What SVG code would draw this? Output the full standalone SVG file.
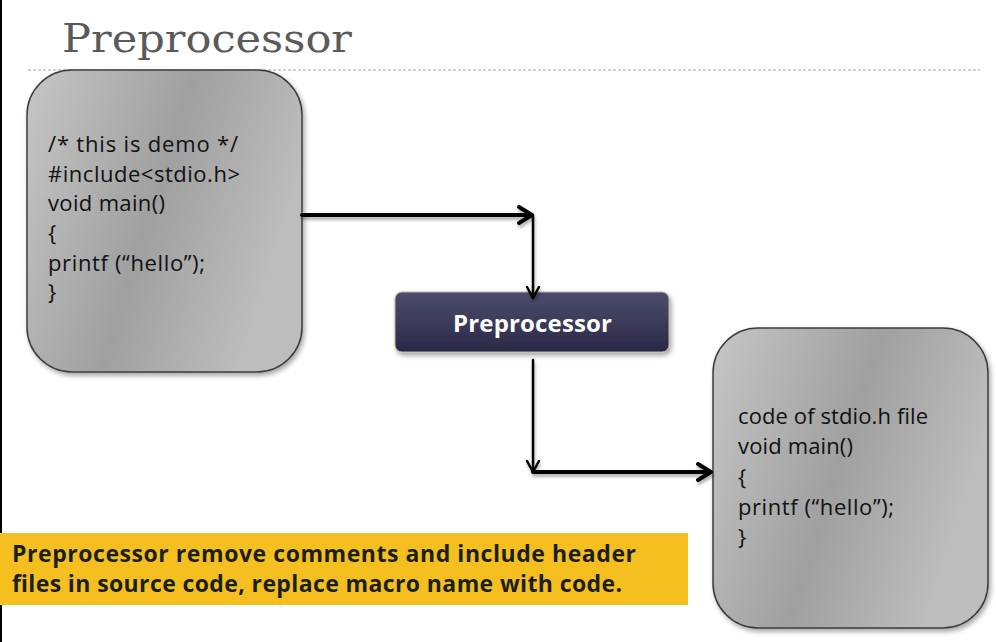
<svg xmlns="http://www.w3.org/2000/svg" width="996" height="642" viewBox="0 0 996 642">
<defs>
<linearGradient id="gbox" x1="0" y1="0" x2="1" y2="0.35">
<stop offset="0" stop-color="#c6c6c6"/>
<stop offset="0.55" stop-color="#a0a0a0"/>
<stop offset="1" stop-color="#bdbdbd"/>
</linearGradient>
<linearGradient id="gbtn" x1="0" y1="0" x2="0" y2="1">
<stop offset="0" stop-color="#4d4c6e"/>
<stop offset="1" stop-color="#2a2946"/>
</linearGradient>
<filter id="sh" x="-10%" y="-10%" width="130%" height="130%">
<feDropShadow dx="2" dy="3" stdDeviation="2.5" flood-color="#000" flood-opacity="0.35"/>
</filter>
<filter id="lsh" x="-5%" y="-50%" width="110%" height="250%">
<feDropShadow dx="1" dy="3" stdDeviation="1.5" flood-color="#000" flood-opacity="0.3"/>
</filter>
</defs>
<style>
.box{fill:url(#gbox);stroke:#3c3c3c;stroke-width:1.5}
.code{font-family:"Open Sans","Liberation Sans",sans-serif;font-size:22px;fill:#111}
.thick{fill:none;stroke:#000;stroke-width:4;stroke-linecap:round;stroke-linejoin:round}
.thin{fill:none;stroke:#000;stroke-width:2.5;stroke-linecap:round;stroke-linejoin:round}
.note{font-family:"Open Sans","Liberation Sans",sans-serif;font-size:23px;font-weight:bold;fill:#1b1f1c}
</style>
<rect x="0" y="0" width="996" height="642" fill="#fff"/>
<rect x="0" y="0" width="2" height="642" fill="#000"/>
<g id="title">
<text x="62" y="52" font-family="DejaVu Serif,Liberation Serif,serif" font-size="39" fill="#5a5a5a" textLength="290" lengthAdjust="spacingAndGlyphs">Preprocessor</text>
<line x1="28" y1="70" x2="980" y2="70" stroke="#b8c4cc" stroke-width="1.5" stroke-dasharray="3 2"/>
</g>
<g id="source">
<rect class="box" x="27" y="70" width="275" height="302" rx="45" ry="45" filter="url(#sh)"/>
<text class="code" x="48" y="152" textLength="190">/* this is demo */</text>
<text class="code" x="48" y="181.5" textLength="192">#include&lt;stdio.h&gt;</text>
<text class="code" x="48" y="211" textLength="117">void main()</text>
<text class="code" x="48" y="241">{</text>
<text class="code" x="48" y="271" textLength="157">printf (“hello”);</text>
<text class="code" x="48" y="300">}</text>
</g>
<g id="preprocessor">
<rect x="395" y="292" width="274" height="60" rx="7" ry="7" fill="url(#gbtn)" stroke="#b9b79a" stroke-width="1" filter="url(#sh)"/>
<text x="532.5" y="332" text-anchor="middle" font-family="Open Sans,Liberation Sans,sans-serif" font-size="24" font-weight="bold" fill="#fff" textLength="159">Preprocessor</text>
</g>
<g id="output">
<rect class="box" x="713" y="328" width="275" height="300" rx="45" ry="45" filter="url(#sh)"/>
<text class="code" x="738" y="424" textLength="190">code of stdio.h file</text>
<text class="code" x="738" y="454" textLength="115">void main()</text>
<text class="code" x="738" y="485">{</text>
<text class="code" x="738" y="515" textLength="156">printf (“hello”);</text>
<text class="code" x="738" y="545">}</text>
</g>
<g id="connectors" filter="url(#lsh)">
<path class="thick" d="M302 215 H531"/>
<path class="thick" d="M519 207 L532 215 L519 223"/>
<path class="thin" d="M533 215 V298"/>
<path class="thin" d="M527 287 L533 298 L539 287"/>
<path class="thin" d="M533 360 V472"/>
<path class="thin" d="M527 461 L533 472 L539 461"/>
<path class="thick" d="M533 472 H710"/>
<path class="thick" d="M698 464 L711 472 L698 480"/>
</g>
<g id="note">
<rect x="0" y="533" width="688" height="72" fill="#f5c01f"/>
<text class="note" x="12" y="562" textLength="624">Preprocessor remove comments and include header</text>
<text class="note" x="12" y="592" textLength="610">files in source code, replace macro name with code.</text>
</g>
</svg>
